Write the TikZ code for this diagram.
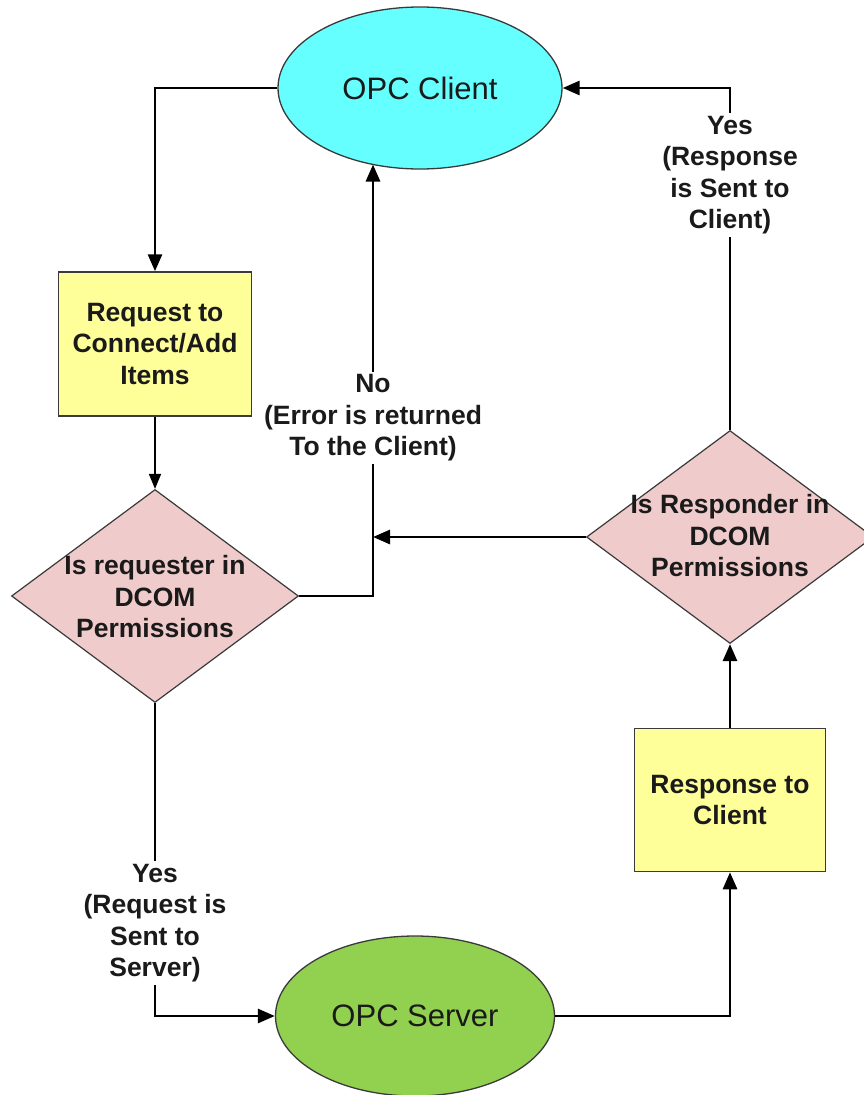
\documentclass[tikz,border=0pt]{standalone}
\usepackage{fontspec}
\setmainfont{Liberation Sans}
\usetikzlibrary{shapes.geometric,arrows.meta,calc}
\definecolor{cyanfill}{HTML}{66FFFF}
\definecolor{yellowfill}{HTML}{FFFF99}
\definecolor{pinkfill}{HTML}{EFCBCB}
\definecolor{greenfill}{HTML}{92D050}
\definecolor{edgegray}{HTML}{3A3A3A}
\definecolor{txt}{HTML}{1A1A1A}
\begin{document}
\begin{tikzpicture}[x=1pt,y=-1pt,
  every node/.style={text=txt},
  oval/.style={ellipse,draw=edgegray,line width=1.3pt,inner sep=0pt,font=\fontsize{31}{36}\selectfont},
  procbox/.style={rectangle,draw=edgegray,line width=1.5pt,fill=yellowfill,inner sep=0pt,align=center,font=\bfseries\fontsize{26.5}{31.5}\selectfont},
  decision/.style={diamond,draw=edgegray,line width=1.2pt,fill=pinkfill,inner sep=0pt,minimum width=287pt,minimum height=213pt},
  dtext/.style={align=center,font=\bfseries\fontsize{26.5}{31.5}\selectfont},
  lbl/.style={fill=white,inner sep=3pt,align=center,font=\bfseries\fontsize{26.5}{31.5}\selectfont},
  conn/.style={line width=2.8pt,draw=black,-{Triangle[length=17pt,width=14pt]}},
  thinconn/.style={line width=1.6pt,draw=black,-{Triangle[length=15pt,width=12pt]}},
  plain/.style={line width=2.8pt,draw=black}
]
\useasboundingbox (0,0) rectangle (864,1095);

\node[oval,fill=cyanfill,minimum width=284pt,minimum height=162pt] (client) at (420,88) {OPC Client};
\node[procbox,minimum width=193pt,minimum height=144pt] (req) at (155,344) {Request to\\Connect/Add\\Items};
\node[decision] (dl) at (155,596) {};
\node[dtext] (dltext) at (155,597) {Is requester in\\DCOM\\Permissions};
\node[decision] (dr) at (730,537) {};
\node[dtext] (drtext) at (730,536) {Is Responder in\\DCOM\\Permissions};
\node[procbox,minimum width=191pt,minimum height=143pt] (resp) at (730,800) {Response to\\Client};
\node[oval,fill=greenfill,minimum width=279pt,minimum height=160pt] (server) at (415,1016) {OPC Server};

\coordinate (noend) at (373,164.5);

\draw[conn] (client.west) -| (req.north);
\draw[thinconn] (req.south) -- (dl.north);
\draw[conn] (dl.east) -| (noend);
\draw[conn] (dr.west) -- (dr.west -| noend);
\draw[conn] (dr.north) |- (client.east);
\draw[conn] (resp.north) -- (dr.south);
\draw[conn] (dl.south) |- (server.west);
\draw[conn] (server.east) -| (resp.south);

\node[lbl] (nolbl) at (373,418) {No\\(Error is returned\\To the Client)};
\node[lbl] (yesr) at (730,175) {Yes\\(Response\\is Sent to\\Client)};
\node[lbl] (yesl) at (155,923) {Yes\\(Request is\\Sent to\\Server)};
\end{tikzpicture}
\end{document}
